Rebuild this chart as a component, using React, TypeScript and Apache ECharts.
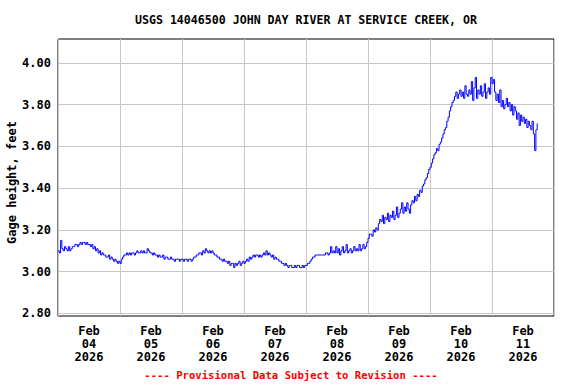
import React, { useEffect, useRef } from 'react';
import * as echarts from 'echarts';

// Gage height (feet), half-hourly readings, per day
const feb04 = [3.10, 3.09, 3.15, 3.11, 3.10, 3.12, 3.11, 3.10, 3.12, 3.10, 3.11, 3.12, 3.12, 3.13, 3.13, 3.12, 3.13, 3.14, 3.13, 3.14, 3.14, 3.13, 3.14, 3.13, 3.13, 3.12, 3.13, 3.11, 3.12, 3.10, 3.11, 3.09, 3.10, 3.08, 3.09, 3.08, 3.08, 3.07, 3.07, 3.08, 3.06, 3.07, 3.06, 3.05, 3.06, 3.05, 3.04, 3.05];
const feb05 = [3.04, 3.06, 3.07, 3.08, 3.08, 3.09, 3.08, 3.09, 3.08, 3.09, 3.09, 3.08, 3.09, 3.10, 3.09, 3.09, 3.10, 3.09, 3.10, 3.09, 3.09, 3.11, 3.10, 3.09, 3.09, 3.08, 3.09, 3.08, 3.08, 3.07, 3.08, 3.07, 3.07, 3.08, 3.06, 3.07, 3.07, 3.06, 3.06, 3.07, 3.06, 3.06, 3.05, 3.06, 3.06, 3.06, 3.05, 3.06];
const feb06 = [3.06, 3.05, 3.06, 3.06, 3.05, 3.06, 3.06, 3.05, 3.06, 3.07, 3.07, 3.08, 3.08, 3.09, 3.09, 3.08, 3.10, 3.09, 3.11, 3.10, 3.09, 3.10, 3.09, 3.10, 3.09, 3.08, 3.08, 3.07, 3.07, 3.06, 3.06, 3.05, 3.06, 3.05, 3.05, 3.04, 3.05, 3.03, 3.04, 3.04, 3.02, 3.04, 3.03, 3.04, 3.05, 3.03, 3.04, 3.05];
const feb07 = [3.04, 3.05, 3.06, 3.05, 3.07, 3.06, 3.07, 3.08, 3.07, 3.08, 3.08, 3.07, 3.08, 3.07, 3.08, 3.09, 3.08, 3.10, 3.08, 3.09, 3.08, 3.07, 3.08, 3.06, 3.07, 3.06, 3.06, 3.05, 3.05, 3.04, 3.04, 3.03, 3.04, 3.03, 3.02, 3.03, 3.03, 3.02, 3.02, 3.03, 3.02, 3.03, 3.03, 3.02, 3.02, 3.03, 3.02, 3.03];
const feb08 = [3.03, 3.04, 3.04, 3.05, 3.06, 3.07, 3.07, 3.08, 3.08, 3.08, 3.08, 3.08, 3.08, 3.08, 3.08, 3.09, 3.09, 3.08, 3.09, 3.12, 3.09, 3.10, 3.09, 3.12, 3.09, 3.11, 3.08, 3.10, 3.12, 3.09, 3.10, 3.13, 3.09, 3.10, 3.11, 3.09, 3.10, 3.12, 3.10, 3.11, 3.10, 3.13, 3.10, 3.11, 3.13, 3.11, 3.12, 3.14];
const feb09 = [3.16, 3.18, 3.18, 3.17, 3.20, 3.19, 3.21, 3.20, 3.23, 3.25, 3.24, 3.27, 3.23, 3.26, 3.25, 3.28, 3.24, 3.27, 3.26, 3.29, 3.25, 3.27, 3.31, 3.26, 3.28, 3.30, 3.33, 3.28, 3.31, 3.29, 3.33, 3.30, 3.28, 3.32, 3.34, 3.33, 3.36, 3.34, 3.37, 3.36, 3.39, 3.38, 3.41, 3.42, 3.44, 3.45, 3.47, 3.49];
const feb10 = [3.50, 3.52, 3.54, 3.56, 3.57, 3.59, 3.58, 3.61, 3.62, 3.64, 3.66, 3.68, 3.69, 3.72, 3.74, 3.77, 3.79, 3.81, 3.82, 3.84, 3.86, 3.83, 3.85, 3.87, 3.84, 3.86, 3.83, 3.89, 3.85, 3.84, 3.87, 3.85, 3.91, 3.82, 3.88, 3.93, 3.83, 3.87, 3.85, 3.89, 3.84, 3.86, 3.90, 3.83, 3.86, 3.88, 3.85, 3.93];
const feb11 = [3.90, 3.92, 3.86, 3.82, 3.85, 3.81, 3.87, 3.79, 3.82, 3.78, 3.80, 3.83, 3.79, 3.81, 3.77, 3.80, 3.75, 3.79, 3.77, 3.73, 3.76, 3.70, 3.75, 3.72, 3.74, 3.71, 3.73, 3.69, 3.72, 3.70, 3.68, 3.72, 3.66, 3.58, 3.68, 3.71];

const days = [feb04, feb05, feb06, feb07, feb08, feb09, feb10, feb11];
const dayLabels = ['04', '05', '06', '07', '08', '09', '10', '11'];
const monthLabel = 'Feb';
const yearLabel = '2026';
const yTicks = [2.8, 3.0, 3.2, 3.4, 3.6, 3.8, 4.0];

const titleText = 'USGS 14046500 JOHN DAY RIVER AT SERVICE CREEK, OR';
const yAxisTitle = 'Gage height, feet';
const footerText = '---- Provisional Data Subject to Revision ----';

const FONT = '"DejaVu Sans Mono", "Liberation Mono", monospace';

export default function App() {
  const ref = useRef<HTMLDivElement>(null);

  useEffect(() => {
    if (!ref.current) return;
    const chart = echarts.init(ref.current, null, { renderer: 'svg' });

    const data: [number, number][] = [];
    days.forEach((arr, d) => arr.forEach((v, i) => data.push([d * 24 + i * 0.5, v])));
    const labelHours = dayLabels.map((_, i) => i * 24 + 12);

    chart.setOption({
      animation: false,
      backgroundColor: '#ffffff',
      grid: {
        left: 58,
        top: 39,
        right: 22,
        bottom: 68,
        show: true,
        borderColor: '#000000',
        borderWidth: 1,
        backgroundColor: 'transparent',
      },
      xAxis: {
        type: 'value',
        min: 0,
        max: 192,
        interval: 24,
        axisLine: { show: false },
        axisTick: { show: false },
        splitLine: { show: true, lineStyle: { color: '#c8c8c8', width: 1 } },
        axisLabel: {
          customValues: labelHours,
          formatter: (v: number) => `${monthLabel}\n${dayLabels[Math.floor(v / 24)]}\n${yearLabel}`,
          fontFamily: FONT,
          fontWeight: 'bold',
          fontSize: 12,
          lineHeight: 13,
          color: '#000000',
          margin: 8,
        },
      },
      yAxis: {
        type: 'value',
        min: 2.788,
        max: 4.114,
        axisLine: { show: false },
        axisTick: { show: false, customValues: yTicks },
        splitLine: { show: true, lineStyle: { color: '#c8c8c8', width: 1 } },
        axisLabel: {
          customValues: yTicks,
          formatter: (v: number) => v.toFixed(2),
          fontFamily: FONT,
          fontWeight: 'bold',
          fontSize: 12,
          color: '#000000',
          margin: 7,
        },
      },
      graphic: [
        {
          type: 'text',
          x: 306,
          y: 20,
          style: {
            text: titleText,
            font: `bold 11.6px ${FONT}`,
            fill: '#000000',
            textAlign: 'center',
            textVerticalAlign: 'middle',
          },
        },
        {
          type: 'text',
          x: 12,
          y: 182.5,
          rotation: Math.PI / 2,
          style: {
            text: yAxisTitle,
            font: `bold 12px ${FONT}`,
            fill: '#000000',
            textAlign: 'center',
            textVerticalAlign: 'middle',
          },
        },
        {
          type: 'text',
          x: 291,
          y: 375,
          style: {
            text: footerText,
            font: `bold 10.6px ${FONT}`,
            fill: '#ff0000',
            textAlign: 'center',
            textVerticalAlign: 'middle',
          },
        },
      ],
      series: [
        {
          type: 'line',
          data,
          showSymbol: false,
          symbol: 'none',
          lineStyle: { color: '#0000ff', width: 1 },
          step: 'end',
          z: 5,
        },
      ],
    });

    return () => chart.dispose();
  }, []);

  return (
    <div
      ref={ref}
      style={{ position: 'fixed', left: 0, top: 0, width: 576, height: 384, background: '#ffffff' }}
    />
  );
}
